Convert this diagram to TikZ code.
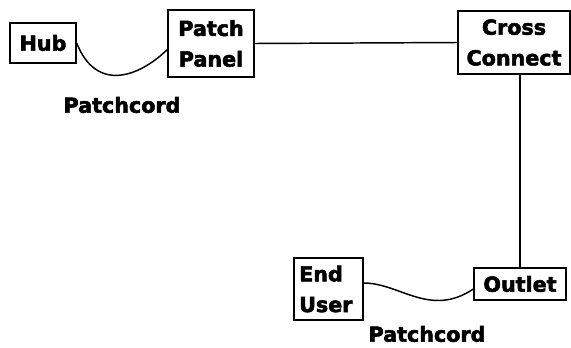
\documentclass[tikz,border=0pt]{standalone}
\usepackage{fontspec}
\setmainfont{DejaVu Sans}[BoldFeatures={FakeBold=2.6}]
\begin{document}
\begin{tikzpicture}[x=0.75pt,y=-0.75pt,
		box/.style={draw,line width=1pt,inner sep=0pt,align=center,font=\bfseries\fontsize{15.5}{23}\selectfont},
		cordlabel/.style={font=\bfseries\fontsize{15.5}{18}\selectfont},
		wire/.style={line width=1.1pt}]
		\useasboundingbox (0,0) rectangle (571,347);
		\node[box,minimum width=49.5pt,minimum height=30pt] (hub) at (43,43) {Hub};
		\node[box,minimum width=64.5pt,minimum height=50.25pt] (patch) at (211,43.5) {Patch\\Panel};
		\node[box,minimum width=84pt,minimum height=47.25pt] (cross) at (514,42.5) {Cross\\Connect};
		\node[box,minimum width=69pt,minimum height=24pt] (outlet) at (520,284) {Outlet};
		\node[box,minimum width=51.75pt,minimum height=46.5pt,text width=44pt,align=left] (enduser) at (328.5,289) {End\\User};
		\node[cordlabel] (cord1) at (122,105) {Patchcord};
		\node[cordlabel] (cord2) at (427,334) {Patchcord};
		\draw[wire] (hub.east) .. controls (96,92) and (138,78) .. ([yshift=-4.5pt]patch.west);
		\draw[wire] (patch.east) -- (cross.west);
		\draw[wire] (outlet.north) -- (outlet.north |- cross.south);
		\draw[wire] ([yshift=4.5pt]enduser.east) .. controls (400,283) and (430,318) .. ([yshift=-3.75pt]outlet.west);
	\end{tikzpicture}
\end{document}
